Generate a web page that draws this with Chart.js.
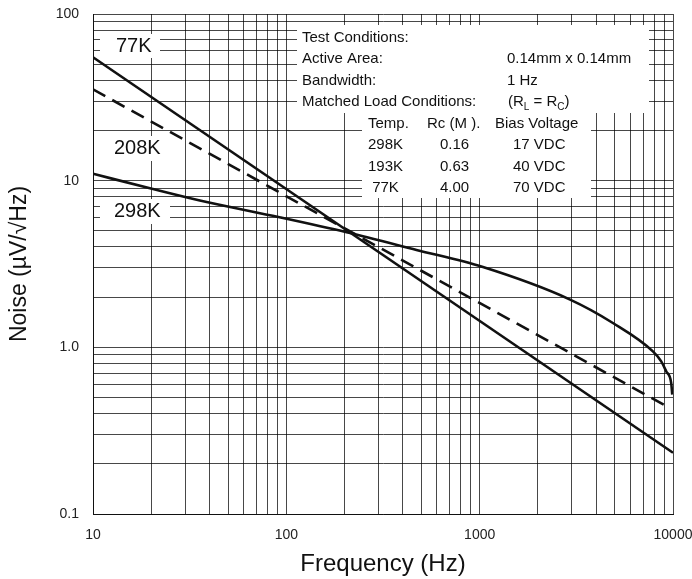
<!DOCTYPE html>
<html>
<head>
<meta charset="utf-8">
<script src="https://cdn.jsdelivr.net/npm/chart.js@4"></script>
<style>
  body { margin: 0; background: #fff; }
  #wrap { width: 692px; height: 579px; }
</style>
</head>
<body>
<div id="wrap"><canvas id="noiseChart"></canvas></div>
<script>
// curve readings (frequency in Hz, noise in uV/sqrt(Hz))
const freq77K = [10, 10000];
const noise77K = [55, 0.233];

const freq208K = [10, 9100];
const noise208K = [35.3, 0.448];

const freq298K = [10, 19.7, 35.7, 85, 205, 471, 1040, 2917, 4887, 7870, 8690, 9230, 9790, 9910];
const noise298K = [11.0, 9.0, 7.6, 6.15, 4.9, 3.84, 3.03, 1.94, 1.40, 0.946, 0.824, 0.716, 0.61, 0.52];

// grid ticks and the labelled ones
const xGrid = [10, 20, 30, 40, 50, 60, 70, 80, 90,
  100, 200, 300, 400, 500, 600, 700, 800, 900,
  1000, 2000, 3000, 4000, 5000, 6000, 7000, 8000, 9000, 10000];
const xLabels = { 10: "10", 100: "100", 1000: "1000", 10000: "10000" };

const yGrid = [0.1, 0.2, 0.3, 0.4, 0.5, 0.6, 0.7, 0.8, 0.9,
  1, 2, 3, 4, 5, 6, 7, 8, 9,
  10, 20, 30, 40, 50, 60, 70, 80, 90, 100];
const yLabels = { 0.1: "0.1", 1: "1.0", 10: "10", 100: "100" };

const curveLabels = [
  { text: "77K", x: 116, y: 46, box: [100, 34, 60, 24] },
  { text: "208K", x: 114, y: 148, box: [100, 136, 70, 25] },
  { text: "298K", x: 114, y: 211, box: [100, 199, 70, 25] }
];

const headerLines = [
  ["Test Conditions:", ""],
  ["Active Area:", "0.14mm x 0.14mm"],
  ["Bandwidth:", "1 Hz"],
  ["Matched Load Conditions:", ""]
];

const tableHead = ["Temp.", "Rc (M ).", "Bias Voltage"];
const tableRows = [
  ["298K", "0.16", "17 VDC"],
  ["193K", "0.63", "40 VDC"],
  [" 77K", "4.00", "70 VDC"]
];

function toPoints(xs, ys) {
  return xs.map((x, i) => ({ x: x, y: ys[i] }));
}

const textFont = "15px 'Liberation Sans', Arial, sans-serif";

const annotations = {
  id: "annotations",
  beforeDatasetsDraw(chart) {
    const ctx = chart.ctx;
    ctx.save();
    ctx.fillStyle = "#fff";
    ctx.fillRect(297, 25, 352, 88);
    ctx.fillRect(362, 112, 229, 86);
    curveLabels.forEach(l => ctx.fillRect(l.box[0], l.box[1], l.box[2], l.box[3]));
    ctx.restore();
  },
  afterDatasetsDraw(chart) {
    const ctx = chart.ctx;
    ctx.save();
    ctx.fillStyle = "#111";
    ctx.textBaseline = "middle";

    ctx.font = "20px 'Liberation Sans', Arial, sans-serif";
    curveLabels.forEach(l => ctx.fillText(l.text, l.x, l.y));

    ctx.font = textFont;
    headerLines.forEach((line, i) => {
      const y = 38 + i * 21.3;
      ctx.fillText(line[0], 302, y);
      if (line[1]) ctx.fillText(line[1], 507, y);
    });

    // (RL = RC) with subscripts
    let x = 508;
    const y = 102;
    const parts = [["(R", 0], ["L", 1], [" = R", 0], ["C", 1], [")", 0]];
    parts.forEach(([t, sub]) => {
      ctx.font = sub ? "10px 'Liberation Sans', Arial, sans-serif" : textFont;
      ctx.fillText(t, x, sub ? y + 5 : y);
      x += ctx.measureText(t).width;
    });

    ctx.font = textFont;
    ctx.fillText(tableHead[0], 368, 124);
    ctx.fillText(tableHead[1], 427, 124);
    ctx.fillText(tableHead[2], 495, 124);
    tableRows.forEach((row, i) => {
      const ry = 145 + i * 21.5;
      ctx.fillText(row[0], 368, ry);
      ctx.fillText(row[1], 440, ry);
      ctx.fillText(row[2], 513, ry);
    });
    ctx.restore();
  }
};

const gridColor = "rgba(0,0,0,0.72)";

new Chart(document.getElementById("noiseChart"), {
  type: "line",
  data: {
    datasets: [
      {
        label: "77K",
        data: toPoints(freq77K, noise77K),
        borderColor: "#111",
        borderWidth: 2.6,
        pointRadius: 0
      },
      {
        label: "208K",
        data: toPoints(freq208K, noise208K),
        borderColor: "#111",
        borderWidth: 2.6,
        borderDash: [14, 8],
        pointRadius: 0
      },
      {
        label: "298K",
        data: toPoints(freq298K, noise298K),
        borderColor: "#111",
        borderWidth: 2.6,
        pointRadius: 0,
        cubicInterpolationMode: "monotone"
      }
    ]
  },
  options: {
    responsive: true,
    maintainAspectRatio: false,
    animation: false,
    layout: {
      padding: { left: 0, right: 19, top: 14, bottom: 0 }
    },
    plugins: {
      legend: { display: false },
      tooltip: { enabled: false }
    },
    scales: {
      x: {
        type: "logarithmic",
        min: 10,
        max: 10000,
        afterBuildTicks: scale => {
          scale.ticks = xGrid.map(v => ({ value: v }));
        },
        afterFit: scale => {
          scale.height = 65;
          scale.paddingLeft = 0;
          scale.paddingRight = 0;
        },
        grid: {
          color: gridColor,
          lineWidth: 1,
          drawTicks: false
        },
        border: { color: "#111", width: 1 },
        ticks: {
          autoSkip: false,
          maxRotation: 0,
          padding: 13,
          color: "#222",
          font: { family: "'Liberation Sans', Arial, sans-serif", size: 14 },
          callback: value => xLabels[value] || ""
        },
        title: {
          display: true,
          text: "Frequency (Hz)",
          color: "#111",
          font: { family: "'Liberation Sans', Arial, sans-serif", size: 24 },
          padding: { top: 0, bottom: 0 }
        }
      },
      y: {
        type: "logarithmic",
        min: 0.1,
        max: 100,
        afterBuildTicks: scale => {
          scale.ticks = yGrid.map(v => ({ value: v }));
        },
        afterFit: scale => {
          scale.width = 93;
          scale.paddingTop = 0;
          scale.paddingBottom = 0;
        },
        grid: {
          color: gridColor,
          lineWidth: 1,
          drawTicks: false
        },
        border: { color: "#111", width: 1 },
        ticks: {
          autoSkip: false,
          padding: 14,
          color: "#222",
          font: { family: "'Liberation Sans', Arial, sans-serif", size: 14 },
          callback: value => yLabels[value] || ""
        },
        title: {
          display: true,
          text: "Noise (µV/√Hz)",
          color: "#111",
          font: { family: "'Liberation Sans', Arial, sans-serif", size: 23 },
          padding: { top: 6, bottom: 0 }
        }
      }
    }
  },
  plugins: [annotations]
});
</script>
</body>
</html>
